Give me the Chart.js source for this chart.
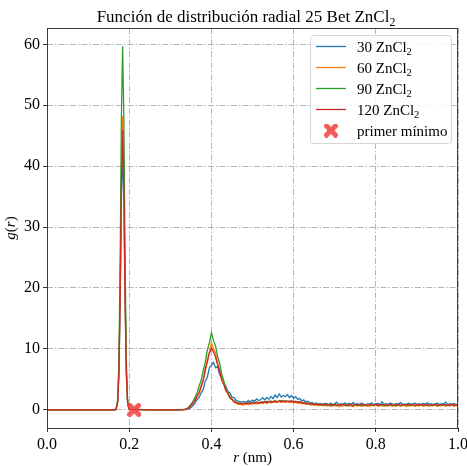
<!DOCTYPE html>
<html><head><meta charset="utf-8">
<script src="https://cdn.jsdelivr.net/npm/chart.js@4"></script>
<style>html,body{margin:0;padding:0;background:#fff}#wrap{width:467px;height:466px}</style>
</head><body><div id="wrap"><canvas id="c" width="467" height="466"></canvas></div>
<script>
// ---- data ----
const seriesLabels = ['30', '60', '90', '120'];
const rValues = [0, 0.05, 0.1, 0.15,
  0.165, 0.168, 0.172, 0.175, 0.178, 0.181, 0.184, 0.187, 0.19, 0.193, 0.196, 0.2,
  0.25, 0.3, 0.32,
  0.330, 0.335, 0.340, 0.345, 0.350, 0.355, 0.360, 0.365, 0.370, 0.375,
  0.380, 0.385, 0.390, 0.395, 0.400, 0.405, 0.410, 0.415, 0.420, 0.425,
  0.430, 0.435, 0.440, 0.445, 0.450, 0.455, 0.460, 0.465, 0.470, 0.475,
  0.480, 0.485, 0.490, 0.495, 0.500, 0.505, 0.510, 0.515, 0.520, 0.525,
  0.530, 0.535, 0.540, 0.545, 0.550, 0.555, 0.560, 0.565, 0.570, 0.575,
  0.580, 0.585, 0.590, 0.595, 0.600, 0.605, 0.610, 0.615, 0.620, 0.625,
  0.630, 0.635, 0.640, 0.645, 0.650, 0.655, 0.660, 0.665, 0.670, 0.675,
  0.680, 0.685, 0.690, 0.695, 0.700, 0.705, 0.710, 0.715, 0.720, 0.725,
  0.730, 0.735, 0.740, 0.745, 0.750, 0.755, 0.760, 0.765, 0.770, 0.775,
  0.780, 0.785, 0.790, 0.795, 0.800, 0.805, 0.810, 0.815, 0.820, 0.825,
  0.830, 0.835, 0.840, 0.845, 0.850, 0.855, 0.860, 0.865, 0.870, 0.875,
  0.880, 0.885, 0.890, 0.895, 0.900, 0.905, 0.910, 0.915, 0.920, 0.925,
  0.930, 0.935, 0.940, 0.945, 0.950, 0.955, 0.960, 0.965, 0.970, 0.975,
  0.980, 0.985, 0.990, 0.995, 1.000];

const g30 = [0, 0, 0, 0,
  0, 0.07, 1.2, 5.8, 17.6, 34.4, 43.0, 34.4, 17.6, 5.8, 1.2, 0.07,
  0, 0, 0,
  0.0, 0.02, 0.06, 0.16, 0.36, 0.72, 1.05, 1.7, 2.0, 2.8,
  3.3, 4.7, 5.3, 6.9, 7.3, 7.8, 6.9, 7.1, 5.8, 5.3,
  4.2, 3.9, 3.0, 2.8, 2.1, 2.0, 1.55, 1.45, 1.25, 1.35,
  1.35, 1.2, 1.55, 1.3, 1.62, 1.4, 1.8, 1.5, 1.7, 1.95,
  1.65, 2.0, 1.75, 2.2, 1.85, 2.45, 2.0, 2.6, 2.1, 2.35,
  2.15, 2.5, 2.0, 2.35, 1.9, 2.15, 1.7, 1.85, 1.5, 1.6,
  1.3, 1.4, 1.1, 1.2, 0.98, 1.12, 0.9, 1.05, 0.88, 1.0,
  1.05, 0.82, 1.12, 0.86, 0.98, 1.25, 0.84, 1.02, 0.9, 1.15,
  0.85, 1.08, 0.92, 1.2, 0.83, 1.0, 0.88, 1.1, 0.95, 0.8,
  1.02, 0.9, 1.14, 0.84, 0.97, 1.06, 0.86, 1.32, 0.9, 0.99,
  0.86, 1.1, 0.93, 0.82, 1.04, 0.95, 1.18, 0.87, 0.98, 0.9,
  1.07, 0.84, 0.96, 1.12, 0.88, 1.0, 0.83, 1.06, 0.92, 1.15,
  0.9, 1.02, 0.85, 0.97, 1.08, 0.88, 1.0, 0.92, 1.3, 0.86,
  1.0, 0.9, 1.06, 0.87, 0.95];

const g60 = [0, 0, 0, 0,
  0, 0.08, 1.4, 6.5, 19.8, 38.6, 48.2, 38.6, 19.8, 6.5, 1.4, 0.08,
  0, 0, 0,
  0.02, 0.05, 0.14, 0.32, 0.62, 1.05, 1.5, 2.1, 2.7, 3.6,
  4.8, 6.2, 8.3, 9.4, 11.0, 10.0, 9.4, 7.7, 6.6, 5.2,
  4.3, 3.1, 2.7, 1.9, 1.65, 1.25, 1.1, 0.92, 0.95, 0.83,
  0.82, 1.0, 0.85, 1.08, 0.9, 1.12, 0.95, 1.0, 1.15, 1.02,
  1.2, 1.05, 1.3, 1.12, 1.35, 1.18, 1.28, 1.4, 1.2, 1.35,
  1.22, 1.38, 1.18, 1.3, 1.12, 1.25, 1.05, 1.15, 0.98, 1.06,
  0.88, 0.96, 0.8, 0.85, 0.72, 0.82, 0.68, 0.76, 0.64, 0.72,
  0.6, 0.78, 0.55, 0.72, 0.64, 0.8, 0.52, 0.7, 0.62, 0.76,
  0.58, 0.74, 0.66, 0.5, 0.79, 0.6, 0.71, 0.56, 0.77, 0.63,
  0.7, 0.54, 0.75, 0.62, 0.8, 0.57, 0.69, 0.74, 0.53, 0.7,
  0.64, 0.78, 0.56, 0.72, 0.6, 0.81, 0.58, 0.67, 0.75, 0.55,
  0.73, 0.6, 0.79, 0.54, 0.7, 0.63, 0.77, 0.59, 0.72, 0.66,
  0.57, 0.76, 0.62, 0.8, 0.55, 0.71, 0.65, 0.78, 0.58, 0.74,
  0.62, 0.79, 0.56, 0.73, 0.68];

const g90 = [0, 0, 0, 0,
  0, 0.1, 1.7, 8.1, 24.5, 47.8, 59.7, 47.8, 24.5, 8.1, 1.7, 0.1,
  0, 0, 0,
  0.03, 0.08, 0.22, 0.46, 0.9, 1.35, 2.05, 2.75, 3.9, 4.8,
  6.4, 7.8, 9.8, 11.0, 12.6, 11.4, 10.5, 8.8, 7.6, 5.9,
  4.8, 3.6, 2.9, 2.15, 1.8, 1.42, 1.28, 1.08, 1.1, 1.0,
  1.1, 0.98, 1.2, 1.05, 1.25, 1.1, 1.3, 1.15, 1.22, 1.35,
  1.2, 1.4, 1.28, 1.45, 1.32, 1.5, 1.35, 1.42, 1.55, 1.38,
  1.5, 1.35, 1.46, 1.3, 1.42, 1.25, 1.33, 1.18, 1.24, 1.1,
  1.12, 0.98, 1.05, 0.9, 0.96, 0.84, 0.92, 0.8, 0.88, 0.78,
  0.85, 0.7, 0.9, 0.74, 0.82, 0.66, 0.88, 0.76, 0.93, 0.72,
  0.8, 0.68, 0.87, 0.75, 0.91, 0.7, 0.83, 0.77, 0.66, 0.86,
  0.74, 0.9, 0.69, 0.84, 0.78, 0.92, 0.71, 0.86, 0.75, 0.8,
  0.68, 0.87, 0.76, 0.91, 0.72, 0.82, 0.67, 0.88, 0.79, 0.74,
  0.9, 0.73, 0.84, 0.69, 0.86, 0.77, 0.92, 0.71, 0.8, 0.75,
  0.83, 0.68, 0.89, 0.76, 0.81, 0.7, 0.9, 0.74, 0.85, 0.78,
  0.72, 0.88, 0.76, 0.83, 0.79];

const g120 = [0, 0, 0, 0,
  0, 0.08, 1.3, 6.2, 18.8, 36.8, 45.9, 36.8, 18.8, 6.2, 1.3, 0.08,
  0, 0, 0,
  0.02, 0.06, 0.15, 0.34, 0.68, 1.12, 1.55, 2.25, 2.85, 3.9,
  4.9, 6.7, 7.8, 9.3, 10.1, 9.5, 8.7, 7.4, 6.3, 4.9,
  4.2, 3.2, 2.7, 2.0, 1.75, 1.38, 1.22, 1.02, 1.05, 0.95,
  1.08, 0.94, 1.15, 1.0, 1.2, 1.02, 1.24, 1.08, 1.3, 1.12,
  1.35, 1.18, 1.42, 1.22, 1.3, 1.48, 1.25, 1.5, 1.3, 1.44,
  1.28, 1.45, 1.32, 1.5, 1.26, 1.4, 1.22, 1.35, 1.12, 1.2,
  1.02, 1.1, 0.92, 1.0, 0.86, 0.97, 0.84, 0.92, 0.8, 0.88,
  0.9, 0.74, 0.86, 0.7, 0.93, 0.78, 0.84, 0.69, 0.88, 0.8,
  0.72, 0.92, 0.79, 0.7, 0.87, 0.83, 0.74, 0.95, 0.77, 0.85,
  0.7, 0.89, 0.8, 0.76, 0.94, 0.72, 0.85, 0.79, 0.9, 0.73,
  0.86, 0.77, 0.92, 0.71, 0.83, 0.88, 0.74, 0.9, 0.78, 0.84,
  0.75, 0.93, 0.8, 0.72, 0.87, 0.79, 0.91, 0.73, 0.85, 0.8,
  0.88, 0.74, 0.82, 0.93, 0.71, 0.86, 0.78, 0.9, 0.76, 0.84,
  0.79, 0.91, 0.74, 0.87, 0.82];

const firstMinR = [0.212];
const firstMinG = [0];
const xTicks = [0, 0.2, 0.4, 0.6, 0.8, 1.0];
const yTicks = [0, 10, 20, 30, 40, 50, 60];
const yMin = -2.985, yMax = 62.685;

// ---- styling ----
const colors = ['#1f77b4', '#ff7f0e', '#2ca02c', '#d62728'];
const SERIF = '"Liberation Serif", "DejaVu Serif", serif';

function makeXMarker(size) {
  const cv = document.createElement('canvas');
  cv.width = size; cv.height = size;
  const c = cv.getContext('2d');
  const h = size / 2, L = size * 1.25, w = size * 0.36;
  c.translate(h, h); c.rotate(Math.PI / 4);
  c.fillStyle = '#000';
  c.fillRect(-L / 2, -w / 2, L, w);
  c.fillRect(-w / 2, -L / 2, w, L);
  c.setTransform(1, 0, 0, 1, 0, 0);
  c.globalCompositeOperation = 'source-in';
  c.fillStyle = 'rgba(240,60,60,0.85)';
  c.fillRect(0, 0, size, size);
  return cv;
}
const xMarker = makeXMarker(14);

function pts(ys) { return ys.map((y, i) => ({x: rValues[i], y})); }
const seriesData = [g30, g60, g90, g120];

const datasets = seriesData.map((ys, k) => ({
  label: seriesLabels[k],
  data: pts(ys),
  borderColor: colors[k],
  backgroundColor: colors[k],
  borderWidth: 1.3,
  pointRadius: 0,
  tension: 0,
  order: 4 - k
}));
datasets.push({
  label: 'primer mínimo',
  data: firstMinR.map((r, i) => ({x: r, y: firstMinG[i]})),
  showLine: false,
  pointStyle: xMarker,
  pointRadius: 7,
  order: 0,
  clip: false
});

function drawRich(ctx, parts, x, y, size, align) {
  const fontOf = p => (p.it ? 'italic ' : '') + (p.sub ? size * 0.7 : size) + 'px ' + SERIF;
  let total = 0;
  parts.forEach(p => { ctx.font = fontOf(p); total += ctx.measureText(p.t).width; });
  let cx = align === 'center' ? x - total / 2 : x;
  ctx.textAlign = 'left'; ctx.textBaseline = 'alphabetic';
  parts.forEach(p => {
    ctx.font = fontOf(p);
    ctx.fillText(p.t, cx, p.sub ? y + size * 0.22 : y);
    cx += ctx.measureText(p.t).width;
  });
}

const decor = {
  id: 'decor',
  afterDraw(chart) {
    const {ctx, chartArea: a} = chart;
    ctx.save();
    ctx.strokeStyle = '#3a3a3a'; ctx.lineWidth = 1;
    ctx.strokeRect(Math.round(a.left) + 0.5, Math.round(a.top) + 0.5,
      Math.round(a.right - a.left) - 1, Math.round(a.bottom - a.top));
    ctx.fillStyle = '#000';
    drawRich(ctx, [{t: 'Función de distribución radial 25 Bet ZnCl'}, {t: '2', sub: true}],
      246, 22, 17, 'center');
    drawRich(ctx, [{t: 'r', it: true}, {t: ' (nm)'}], (a.left + a.right) / 2, 462, 15, 'center');
    ctx.save();
    ctx.translate(15, (a.top + a.bottom) / 2);
    ctx.rotate(-Math.PI / 2);
    drawRich(ctx, [{t: 'g', it: true}, {t: '('}, {t: 'r', it: true}, {t: ')'}], 0, 0, 15, 'center');
    ctx.restore();
    const bx = 310.5, by = 35.5, bw = 141, bh = 108;
    ctx.fillStyle = 'rgba(255,255,255,0.85)';
    ctx.strokeStyle = '#d6d6d6'; ctx.lineWidth = 1;
    ctx.beginPath();
    if (ctx.roundRect) ctx.roundRect(bx, by, bw, bh, 3); else ctx.rect(bx, by, bw, bh);
    ctx.fill(); ctx.stroke();
    const rowY = [46.5, 67.5, 88.5, 109.5, 130.5];
    for (let k = 0; k < 4; k++) {
      ctx.strokeStyle = colors[k]; ctx.lineWidth = 1.3;
      ctx.beginPath(); ctx.moveTo(316, rowY[k]); ctx.lineTo(346, rowY[k]); ctx.stroke();
      ctx.fillStyle = '#000';
      drawRich(ctx, [{t: seriesLabels[k] + ' ZnCl'}, {t: '2', sub: true}], 357, rowY[k] + 5, 15, 'left');
    }
    ctx.drawImage(xMarker, 331 - 7, rowY[4] - 7);
    ctx.fillStyle = '#000';
    drawRich(ctx, [{t: 'primer mínimo'}], 357, rowY[4] + 5, 15, 'left');
    ctx.restore();
  }
};

new Chart(document.getElementById('c'), {
  type: 'line',
  data: {datasets},
  plugins: [decor],
  options: {
    responsive: false,
    animation: false,
    devicePixelRatio: 1,
    layout: {padding: {top: 28, right: 9, left: 0, bottom: 0}},
    plugins: {legend: {display: false}, title: {display: false}, tooltip: {enabled: false}},
    scales: {
      x: {
        type: 'linear', min: 0, max: 1,
        afterBuildTicks: s => { s.ticks = xTicks.map(v => ({value: v})); },
        afterFit: s => { s.height = 38; s.paddingLeft = 0; s.paddingRight = 0; },
        ticks: {color: '#000', font: {family: SERIF, size: 16}, padding: 3,
          callback: v => Number(v).toFixed(1), maxRotation: 0},
        grid: {color: '#b5b5b5', lineWidth: 1, drawTicks: true, tickLength: 4, tickColor: '#333', tickWidth: 1},
        border: {display: false, dash: [6, 2, 1.5, 2]}
      },
      y: {
        type: 'linear', min: yMin, max: yMax,
        afterBuildTicks: s => { s.ticks = yTicks.map(v => ({value: v})); },
        afterFit: s => { s.width = 47; s.paddingTop = 0; s.paddingBottom = 0; },
        ticks: {color: '#000', font: {family: SERIF, size: 16}, padding: 3,
          callback: v => String(v)},
        grid: {color: '#b5b5b5', lineWidth: 1, drawTicks: true, tickLength: 4, tickColor: '#333', tickWidth: 1},
        border: {display: false, dash: [6, 2, 1.5, 2]}
      }
    }
  }
});
</script></body></html>
